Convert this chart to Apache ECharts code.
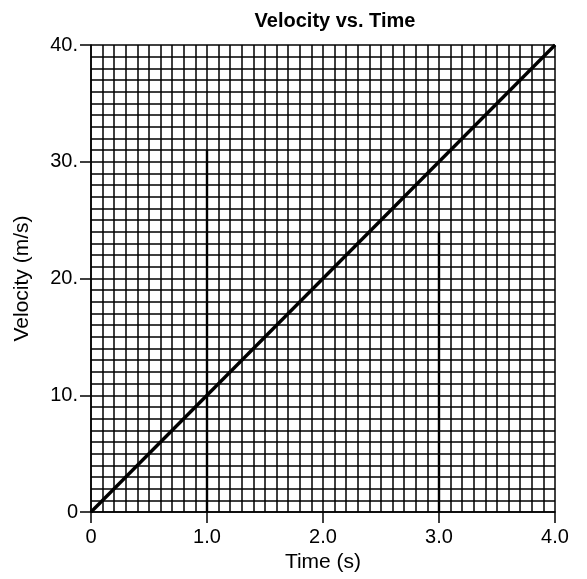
<!DOCTYPE html>
<html>
<head>
<meta charset="utf-8">
<script src="https://cdn.jsdelivr.net/npm/echarts@6/dist/echarts.min.js"></script>
<style>html,body{margin:0;padding:0;background:#fff}#c{width:587px;height:579px}</style>
</head>
<body>
<div id="c"></div>
<script>
var titleText = "Velocity vs. Time";
var xName = "Time (s)";
var yName = "Velocity (m/s)";
var lineTimes = [0, 4.0];
var lineVelocities = [0, 40];
var marker1Times = [1.0, 1.0];
var marker1Values = [0, 31];
var marker2Times = [3.0, 3.0];
var marker2Values = [0, 24];
var xTickLabels = {0: "0", 1: "1.0", 2: "2.0", 3: "3.0", 4: "4.0"};
var yTickLabels = {0: "0", 10: "10.", 20: "20.", 30: "30.", 40: "40."};

function pairs(xs, ys) { return xs.map(function (x, i) { return [x, ys[i]]; }); }

var font = "Liberation Sans, Arial, Helvetica, sans-serif";
var chart = echarts.init(document.getElementById('c'), null, {renderer: 'canvas'});
chart.setOption({
  animation: false,
  backgroundColor: '#fff',
  title: {
    text: titleText, left: 330, top: 6, textAlign: 'center',
    textStyle: {fontFamily: font, fontSize: 20, fontWeight: 'bold', color: '#000'}
  },
  grid: {left: 91, right: 32, top: 45, bottom: 67, containLabel: false},
  xAxis: {
    type: 'value', min: 0, max: 4, interval: 1,
    name: xName, nameLocation: 'middle', nameGap: 40,
    nameTextStyle: {fontFamily: font, fontSize: 21, color: '#000'},
    axisLine: {show: true, lineStyle: {color: '#000', width: 1.5}},
    axisTick: {show: true, length: 11, inside: false, lineStyle: {color: '#000', width: 1.5}},
    axisLabel: {fontFamily: font, fontSize: 20, color: '#000', margin: 15,
      formatter: function (v) { return xTickLabels[v] !== undefined ? xTickLabels[v] : ''; }},
    splitLine: {show: true, lineStyle: {color: '#000', width: 1.5}},
    minorTick: {show: false, splitNumber: 10},
    minorSplitLine: {show: true, lineStyle: {color: '#000', width: 1.5}}
  },
  yAxis: {
    type: 'value', min: 0, max: 40, interval: 10,
    name: yName, nameLocation: 'middle', nameGap: 58, nameRotate: 90,
    nameTextStyle: {fontFamily: font, fontSize: 21, color: '#000'},
    axisLine: {show: true, lineStyle: {color: '#000', width: 1.5}},
    axisTick: {show: true, length: 11, inside: false, lineStyle: {color: '#000', width: 1.5}},
    axisLabel: {fontFamily: font, fontSize: 20, color: '#000', margin: 13,
      formatter: function (v) { return yTickLabels[v] !== undefined ? yTickLabels[v] : ''; }},
    splitLine: {show: true, lineStyle: {color: '#000', width: 1.5}},
    minorTick: {show: false, splitNumber: 10},
    minorSplitLine: {show: true, lineStyle: {color: '#000', width: 1.5}}
  },
  series: [
    {type: 'line', data: pairs(marker1Times, marker1Values), symbol: 'none',
      lineStyle: {color: '#000', width: 2.4}, z: 3},
    {type: 'line', data: pairs(marker2Times, marker2Values), symbol: 'none',
      lineStyle: {color: '#000', width: 2.4}, z: 3},
    {type: 'line', data: pairs(lineTimes, lineVelocities), symbol: 'none',
      lineStyle: {color: '#000', width: 3.4}, z: 4}
  ]
});
</script>
</body>
</html>
